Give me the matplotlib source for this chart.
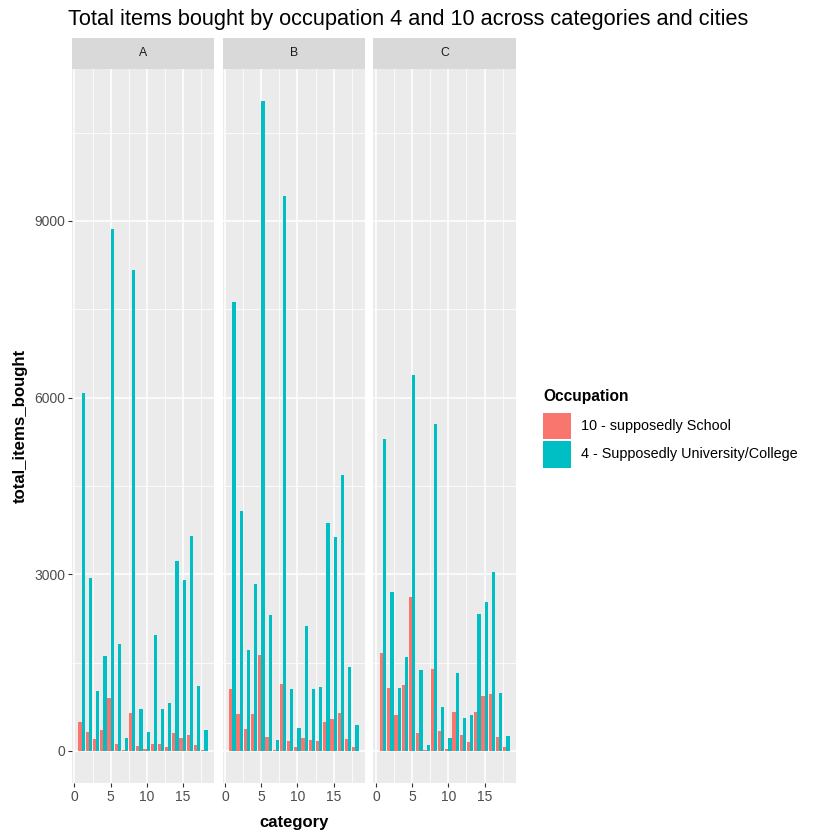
import matplotlib
matplotlib.use('Agg')
import matplotlib.pyplot as plt
from matplotlib.patches import Rectangle
import numpy as np

plt.rcParams['font.family'] = ['Liberation Sans', 'DejaVu Sans']

# data
categories = list(range(1, 19))
cities = ['A', 'B', 'C']
occupations = ['10 - supposedly School', '4 - Supposedly University/College']

occ10_A = [492, 323, 204, 357, 900, 119, 10, 645, 85, 34, 119, 119, 68, 306, 221, 272, 102, 17]
occ4_A = [6080, 2940, 1020, 1610, 8870, 1820, 221, 8170, 713, 323, 1970, 713, 815, 3226, 2904, 3651, 1104, 357]

occ10_B = [1053, 628, 374, 628, 1630, 238, 17, 1138, 170, 68, 221, 187, 170, 492, 543, 645, 204, 68]
occ4_B = [7620, 4075, 1715, 2836, 11030, 2309, 187, 9420, 1053, 391, 2123, 1053, 1087, 3871, 3634, 4687, 1426, 441]

occ10_C = [1661, 1068, 610, 1119, 2610, 305, 17, 1390, 339, 34, 661, 271, 153, 661, 932, 966, 237, 68]
occ4_C = [5305, 2695, 1068, 1593, 6390, 1373, 102, 5560, 746, 220, 1322, 559, 610, 2322, 2526, 3034, 983, 254]

series = {
    'A': (occ10_A, occ4_A),
    'B': (occ10_B, occ4_B),
    'C': (occ10_C, occ4_C),
}

colors = ['#F8766D', '#00BFC4']

W, H = 840, 840
fig = plt.figure(figsize=(8.4, 8.4), dpi=100)
fig.patch.set_facecolor('white')


def px_box(x0, y0, x1, y1):
    # pixel box (top-left origin) -> figure fraction rect
    return [x0 / W, 1 - y1 / H, (x1 - x0) / W, (y1 - y0) / H]


panel_x = [(72, 214), (222.7, 365), (373.4, 516)]
panel_top, panel_bottom = 69, 783.3
strip_top = 37.7

ymax = max(max(v) for pair in series.values() for v in pair)
ypad = 0.05 * ymax
x_lo, x_hi = categories[0] - 0.45, categories[-1] + 0.45
xpad = 0.05 * (x_hi - x_lo)
width = 0.45

for i, city in enumerate(cities):
    x0, x1 = panel_x[i]
    ax = fig.add_axes(px_box(x0, panel_top, x1, panel_bottom))
    ax.set_facecolor('#EBEBEB')
    for s in ax.spines.values():
        s.set_visible(False)

    # grid
    ax.set_xlim(x_lo - xpad, x_hi + xpad)
    ax.set_ylim(-ypad, ymax + ypad)
    ax.set_xticks([0, 5, 10, 15])
    ax.set_xticks([2.5, 7.5, 12.5, 17.5], minor=True)
    ax.set_yticks([0, 3000, 6000, 9000])
    ax.set_yticks([1500, 4500, 7500, 10500], minor=True)
    ax.grid(True, which='major', color='white', linewidth=1.1)
    ax.grid(True, which='minor', color='white', linewidth=0.55)
    ax.set_axisbelow(True)

    x = np.array(categories)
    red, teal = series[city]
    ax.bar(x - width / 2, red, width=width, color=colors[0], linewidth=0)
    ax.bar(x + width / 2, teal, width=width, color=colors[1], linewidth=0)

    ax.tick_params(which='major', length=2.7, width=0.8, color='#333333',
                   labelcolor='#4D4D4D', labelsize=10, pad=2)
    ax.tick_params(which='minor', length=0)
    if i > 0:
        ax.tick_params(axis='y', which='both', left=False, labelleft=False)

    # facet strip
    sax = fig.add_axes(px_box(x0, strip_top, x1, panel_top))
    sax.set_facecolor('#D9D9D9')
    for s in sax.spines.values():
        s.set_visible(False)
    sax.set_xticks([])
    sax.set_yticks([])
    sax.text(0.5, 0.5, city, ha='center', va='center', fontsize=8.8,
             color='#1A1A1A', transform=sax.transAxes)

fig.text(68 / W, 1 - 19 / H, 'Total items bought by occupation 4 and 10 across categories and cities',
         ha='left', va='center', fontsize=15.7, color='black')
fig.text(294 / W, 1 - 822 / H, 'category', ha='center', va='center',
         fontsize=12, fontweight='bold', color='black')
fig.text(20 / W, 1 - 426 / H, 'total_items_bought', ha='center', va='center',
         rotation=90, fontsize=12.1, fontweight='bold', color='black')

# legend (drawn by hand to match ggplot key sizes)
fig.text(543 / W, 1 - 396 / H, 'Occupation', ha='left', va='center',
         fontsize=11.2, fontweight='bold', color='black')
key_tops = [412.7, 441]
key_h = 26.5
for top, c, lab in zip(key_tops, colors, occupations):
    fig.patches.append(Rectangle((543.3 / W, 1 - (top + key_h) / H), 27.2 / W, key_h / H,
                                 transform=fig.transFigure, facecolor=c, edgecolor='none'))
    fig.text(581 / W, 1 - (top + key_h / 2) / H, lab, ha='left', va='center',
             fontsize=10.4, color='black')

fig.savefig('out.png', dpi=100, facecolor='white')
